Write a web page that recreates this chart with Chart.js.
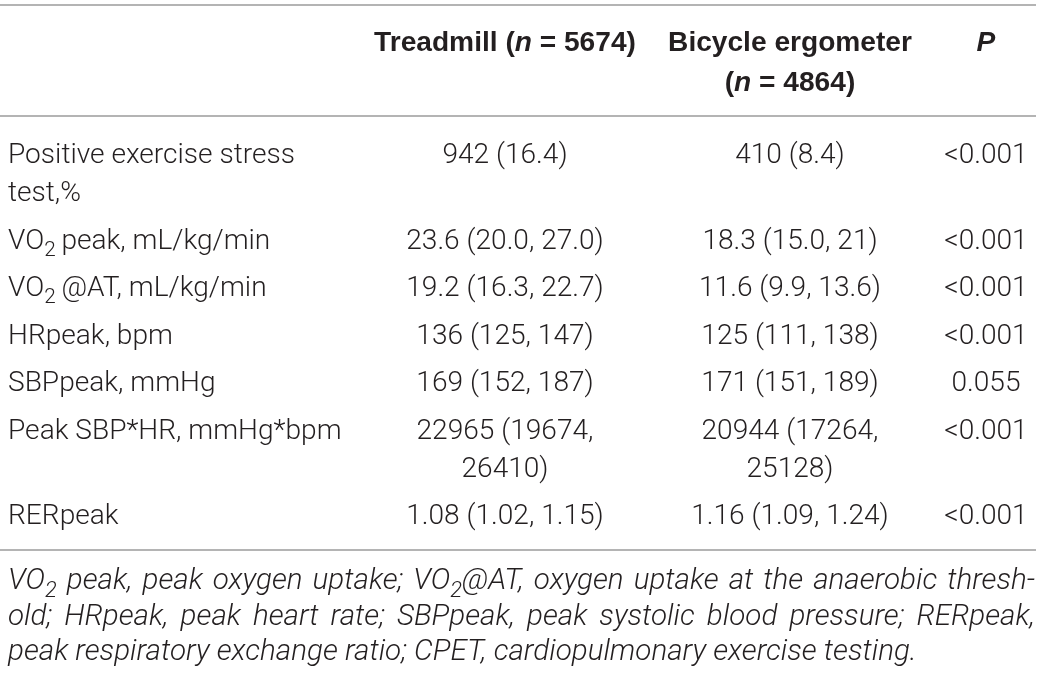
<!DOCTYPE html>
<html>
<head>
<meta charset="utf-8">
<script src="https://cdn.jsdelivr.net/npm/chart.js@4.4.1/dist/chart.umd.min.js"></script>
<style>
  html, body { margin: 0; padding: 0; background: #fff; }
  #chart { display: block; }
</style>
</head>
<body>
<canvas id="chart" width="1041" height="673"></canvas>
<script>
// "~" toggles italic, "_" makes the next character a subscript, "\n" breaks a cell
const columnHeaders = ["", "Treadmill (~n~ = 5674)", "Bicycle ergometer\n(~n~ = 4864)", "~P~"];

const rowLabels = [
  "Positive exercise stress\ntest,%",
  "VO_2\u2009peak, mL/kg/min",
  "VO_2\u2009@AT, mL/kg/min",
  "HRpeak, bpm",
  "SBPpeak, mmHg",
  "Peak SBP*HR, mmHg*bpm",
  "RERpeak"
];

const treadmill = [
  "942 (16.4)",
  "23.6 (20.0, 27.0)",
  "19.2 (16.3, 22.7)",
  "136 (125, 147)",
  "169 (152, 187)",
  "22965 (19674,\n26410)",
  "1.08 (1.02, 1.15)"
];

const bicycle = [
  "410 (8.4)",
  "18.3 (15.0, 21)",
  "11.6 (9.9, 13.6)",
  "125 (111, 138)",
  "171 (151, 189)",
  "20944 (17264,\n25128)",
  "1.16 (1.09, 1.24)"
];

const pValues = ["<0.001", "<0.001", "<0.001", "<0.001", "0.055", "<0.001", "<0.001"];

const footnote = [
  "VO_2 peak, peak oxygen uptake; VO_2@AT, oxygen uptake at the anaerobic thresh-",
  "old; HRpeak, peak heart rate; SBPpeak, peak systolic blood pressure; RERpeak,",
  "peak respiratory exchange ratio; CPET, cardiopulmonary exercise testing."
];

const TEXT = "#231f20";
const RULE = "#9b9b9b";
const BODY_FONT = "Roboto, 'Liberation Sans', sans-serif";
const HEAD_FONT = "'Liberation Sans', Arial, sans-serif";

function parse(str) {
  const segs = [];
  let italic = false, buf = "";
  const flush = () => { if (buf) segs.push({ text: buf, italic, sub: false }); buf = ""; };
  for (let i = 0; i < str.length; i++) {
    const ch = str[i];
    if (ch === "~") { flush(); italic = !italic; }
    else if (ch === "_") { flush(); segs.push({ text: str[i + 1], italic, sub: true }); i++; }
    else buf += ch;
  }
  flush();
  return segs;
}

function fontOf(seg, st) {
  const size = seg.sub ? st.size * 0.74 : st.size;
  return (seg.italic || st.italic ? "italic " : "") + st.weight + " " + size + "px " + st.family;
}

// split into word / space tokens so lines can be justified
function tokens(segs) {
  const out = [];
  segs.forEach(s => {
    s.text.split(/( )/).forEach(t => { if (t) out.push({ text: t, italic: s.italic, sub: s.sub }); });
  });
  return out;
}

function drawRich(ctx, str, x, y, align, st, justifyTo) {
  const toks = tokens(parse(str));
  let natural = 0, spaces = 0;
  toks.forEach(t => {
    ctx.font = fontOf(t, st);
    t.w = ctx.measureText(t.text).width;
    natural += t.w;
    if (t.text === " ") spaces++;
  });
  const extra = justifyTo && spaces ? (justifyTo - natural) / spaces : 0;
  const total = natural + extra * spaces;
  let cx = align === "center" ? x - total / 2 : x;
  toks.forEach(t => {
    ctx.font = fontOf(t, st);
    ctx.fillText(t.text, cx, t.sub ? y + st.size * 0.26 : y);
    cx += t.w + (t.text === " " ? extra : 0);
  });
}

const tablePlugin = {
  id: "table",
  afterDraw(chart) {
    const ctx = chart.ctx;
    const sx = chart.scales.x, sy = chart.scales.y;
    const X = v => sx.getPixelForValue(v);
    const Y = v => sy.getPixelForValue(v);

    const colX = [8, 505, 790, 986];
    const colAlign = ["left", "center", "center", "center"];
    const columns = [rowLabels, treadmill, bicycle, pValues];

    ctx.save();
    ctx.fillStyle = TEXT;
    ctx.textBaseline = "alphabetic";
    ctx.textAlign = "left";

    // fit sizes to the reference text widths
    ctx.font = "300 26px " + BODY_FONT;
    const bodySize = 26 * 287 / ctx.measureText("Positive exercise stress").width;
    ctx.font = "bold 26px " + HEAD_FONT;
    const headSize = 26 * 262 / ctx.measureText("Treadmill (n = 5674)").width;
    const bodySt = { size: bodySize, weight: 300, family: BODY_FONT };
    const headSt = { size: headSize, weight: "bold", family: HEAD_FONT };

    // rules
    const rule = v => {
      ctx.strokeStyle = RULE;
      ctx.lineWidth = 1.5;
      ctx.beginPath();
      ctx.moveTo(X(0), Y(v));
      ctx.lineTo(X(1036), Y(v));
      ctx.stroke();
    };

    rule(5);

    // header
    columnHeaders.forEach((h, c) => {
      h.split("\n").forEach((line, k) => {
        drawRich(ctx, line, X(colX[c]), Y(51 + k * 40), colAlign[c], headSt);
      });
    });
    rule(116);

    // body rows
    let base = 163;
    const linePitch = 38, rowGap = 9.5;
    rowLabels.forEach((_, r) => {
      let lines = 1;
      columns.forEach((col, c) => {
        const parts = col[r].split("\n");
        lines = Math.max(lines, parts.length);
        parts.forEach((line, k) => {
          drawRich(ctx, line, X(colX[c]), Y(base + k * linePitch), colAlign[c], bodySt);
        });
      });
      base += lines * linePitch + rowGap;
    });
    rule(550);

    // footnote: light italic, size fitted to the last line, first lines justified
    const last = footnote[footnote.length - 1].replace(/_/g, "");
    ctx.font = "italic 300 25px " + BODY_FONT;
    const footSize = 25 * 909 / ctx.measureText(last).width;
    const footSt = { size: footSize, weight: 300, family: BODY_FONT, italic: true };
    footnote.forEach((line, k) => {
      const justify = k < footnote.length - 1 ? X(1035) - X(8) : 0;
      drawRich(ctx, line, X(8), Y(589 + k * 35.5), "left", footSt, justify);
    });

    ctx.restore();
  }
};

new Chart(document.getElementById("chart").getContext("2d"), {
  type: "scatter",
  data: { datasets: [{ data: [] }] },
  options: {
    responsive: false,
    animation: false,
    events: [],
    layout: { padding: 0 },
    plugins: { legend: { display: false }, tooltip: { enabled: false } },
    scales: {
      x: { type: "linear", min: 0, max: 1041, display: false },
      y: { type: "linear", min: 0, max: 673, reverse: true, display: false }
    }
  },
  plugins: [tablePlugin]
});
</script>
</body>
</html>
